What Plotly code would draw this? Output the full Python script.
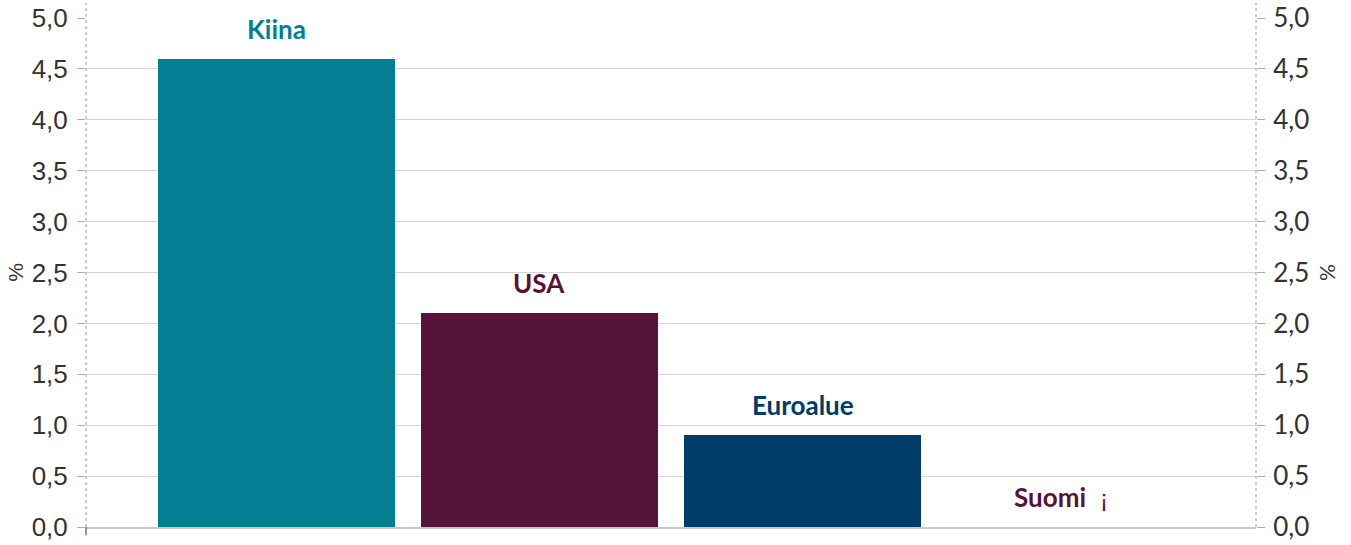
import plotly.graph_objects as go

categories = ["Kiina", "USA", "Euroalue", "Suomi"]
values = [4.6, 2.1, 0.9, 0.0]
bar_colors = ["#037F93", "#56143D", "#003C68", "#56143D"]
label_colors = ["#037F93", "#56143D", "#003C68", "#56143D"]
tick_vals = [0, 0.5, 1, 1.5, 2, 2.5, 3, 3.5, 4, 4.5, 5]

fig = go.Figure()
fig.add_trace(go.Bar(
    x=list(range(len(categories))), y=values, width=0.9,
    marker=dict(color=bar_colors, line=dict(width=0)),
    showlegend=False, hoverinfo="skip",
))
fig.add_trace(go.Scatter(x=[0], y=[0], yaxis="y2", mode="markers",
                         marker=dict(opacity=0), showlegend=False, hoverinfo="skip"))

for i, (c, v) in enumerate(zip(categories, values)):
    fig.add_annotation(x=i if c != "Suomi" else i - 0.06, y=v, text=f"<b>{c}</b>", showarrow=False,
                       yshift=30, font=dict(family="Lato", size=26, color=label_colors[i]))
fig.add_annotation(x=3.145, y=0, text="¡", showarrow=False, yshift=29,
                   font=dict(family="Liberation Sans", size=24, color="#56143D"))

axis_common = dict(range=[0, 5], tickvals=tick_vals, tickformat=".1f",
                   showgrid=True, gridcolor="#d6d6d6", gridwidth=1,
                   ticks="outside", ticklen=8, tickcolor="#aaaaaa",
                   automargin=False,
                   showline=False, zeroline=False, fixedrange=True)

fig.update_layout(
    width=1351, height=545,
    margin=dict(l=86, r=95, t=18, b=18),
    plot_bgcolor="white", paper_bgcolor="white",
    separators=",.",
    bargap=0,
    xaxis=dict(range=[-0.724, 3.724], showticklabels=False, showgrid=False, automargin=False,
               zeroline=False, ticks="", showline=True, linecolor="#c8c8c8", linewidth=2),
    yaxis=dict(**axis_common, ticklabelstandoff=4,
               tickfont=dict(family="Arial, Liberation Sans", size=26, color="#333333"),
               title=dict(text="%", font=dict(family="Arial, Liberation Sans", size=21, color="#333333"), standoff=2)),
    yaxis2=dict(**axis_common, overlaying="y", side="right", ticklabelstandoff=3,
                tickfont=dict(family="Lato", size=26, color="#333333"),
                title=dict(text="%", font=dict(family="Lato", size=21, color="#333333"), standoff=12)),
    shapes=[
        dict(type="line", xref="paper", yref="paper", x0=0, x1=0, y0=0, y1=1.03,
             line=dict(color="#999999", width=1, dash="dot")),
        dict(type="line", xref="paper", yref="paper", x0=1, x1=1, y0=0, y1=1.03,
             line=dict(color="#999999", width=1, dash="dot")),
        dict(type="line", xref="paper", yref="paper", x0=0, x1=0, y0=0, y1=-0.016,
             line=dict(color="#777777", width=1.5)),
    ],
)

fig.write_html("out.html")
